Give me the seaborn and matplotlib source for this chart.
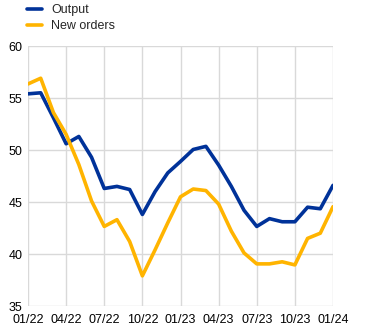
import matplotlib
matplotlib.use("Agg")
import matplotlib.pyplot as plt
import seaborn as sns
import pandas as pd
import numpy as np

months = ["01/22", "02/22", "03/22", "04/22", "05/22", "06/22", "07/22", "08/22", "09/22",
          "10/22", "11/22", "12/22", "01/23", "02/23", "03/23", "04/23", "05/23", "06/23",
          "07/23", "08/23", "09/23", "10/23", "11/23", "12/23", "01/24"]
output = [55.4, 55.5, 53.1, 50.6, 51.3, 49.3, 46.3, 46.5, 46.2, 43.8, 46.0, 47.8, 48.9,
          50.05, 50.35, 48.55, 46.5, 44.2, 42.65, 43.4, 43.1, 43.1, 44.5, 44.35, 46.6]
new_orders = [56.35, 56.9, 53.6, 51.5, 48.6, 45.1, 42.65, 43.3, 41.2, 37.9, 40.4, 43.0, 45.5,
              46.25, 46.1, 44.8, 42.2, 40.1, 39.05, 39.05, 39.25, 38.95, 41.5, 42.0, 44.55]
tick_labels = ["01/22", "04/22", "07/22", "10/22", "01/23", "04/23", "07/23", "10/23", "01/24"]
series_names = ["Output", "New orders"]
colors = ["#003299", "#FFB400"]

sns.set_style("white")
plt.rcParams['font.family'] = ['Liberation Sans', 'DejaVu Sans']

df = pd.DataFrame({
    "idx": list(range(len(months))) * 2,
    "value": output + new_orders,
    "series": [series_names[0]] * len(months) + [series_names[1]] * len(months),
})

fig = plt.figure(figsize=(3.72, 3.31), dpi=100)
ax = fig.add_axes([28 / 372, 1 - 306 / 331, (333 - 28) / 372, (306 - 46) / 331])

sns.lineplot(data=df, x="idx", y="value", hue="series", palette=colors,
             hue_order=series_names, linewidth=2.6, ax=ax, legend=True)

ax.set_xlim(0, 24)
ax.set_ylim(35, 60)
ax.set_xticks(range(0, 25, 3))
ax.set_xticklabels(tick_labels)
ax.set_yticks(range(35, 61, 5))
ax.set_xlabel("")
ax.set_ylabel("")
ax.grid(True, color="#d9d9d9", linewidth=1)
ax.set_axisbelow(True)
for s in ax.spines.values():
    s.set_visible(False)
ax.tick_params(axis="both", length=0, labelsize=9, colors="#000000", pad=4)
ax.tick_params(axis="x", pad=6)

h, l = ax.get_legend_handles_labels()
ax.legend(h, l, loc="upper left", bbox_to_anchor=(26 / 372, 1 - 3 / 331), bbox_transform=fig.transFigure,
          frameon=False, fontsize=9, handlelength=1.2, handletextpad=0.7, labelspacing=0.3,
          borderaxespad=0, borderpad=0.1)

fig.savefig("out.png", dpi=100)
